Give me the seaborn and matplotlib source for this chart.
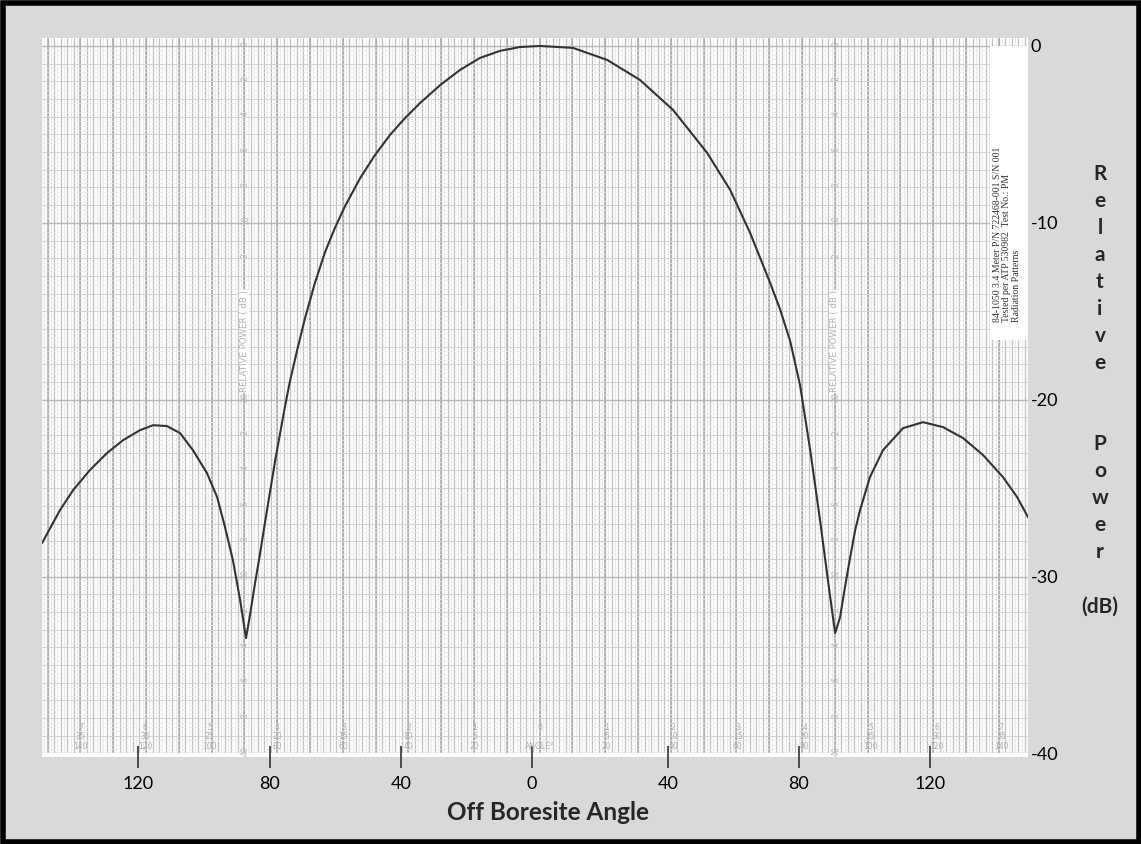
import numpy as np
import pandas as pd
import seaborn as sns
import matplotlib
matplotlib.use("Agg")
import matplotlib.pyplot as plt
from matplotlib.patches import Rectangle

angle = [-149.4, -143.9, -139.9, -134.8, -129.6, -124.7, -119.5, -115.5, -111.3, -107.3,
         -103.4, -99.1, -96.0, -93.6, -91.2, -89.0, -87.2,
         -86.0, -84.5, -82.9, -81.4, -79.9, -78.4, -76.8, -75.3, -73.8, -71.6,
         -69.2, -66.2, -63.1, -60.1, -57.0, -52.4, -47.9, -43.3, -38.7, -34.1,
         -28.0, -22.0, -15.9, -9.8, -3.7, 2.4,
         12.5, 22.9, 32.9, 43.0, 53.4, 60.4, 66.5, 72.6, 75.6, 78.7,
         81.7, 84.8, 87.8, 90.2, 92.4,
         93.9, 95.4, 97.0, 98.5, 100.0, 103.0, 107.0, 113.1, 119.2, 125.3,
         131.4, 137.5, 143.6, 147.9, 151.2]
power = [-28.11, -26.24, -25.11, -23.98, -23.02, -22.29, -21.72, -21.44, -21.49, -21.89,
         -22.85, -24.15, -25.51, -27.21, -29.07, -31.33, -33.48,
         -32.18, -30.43, -28.68, -26.92, -25.23, -23.53, -21.89, -20.36, -18.95, -17.19,
         -15.38, -13.40, -11.65, -10.29, -9.05, -7.47, -6.17, -5.03, -4.07, -3.22,
         -2.21, -1.36, -0.68, -0.28, -0.06, 0.0,
         -0.11, -0.79, -1.92, -3.62, -6.05, -8.14, -10.58, -13.40, -14.88, -16.69,
         -19.17, -22.85, -26.81, -30.20, -33.20,
         -32.30, -30.60, -28.90, -27.38, -26.24, -24.38, -22.85, -21.61, -21.27, -21.55,
         -22.17, -23.13, -24.38, -25.51, -26.64]

xtick_pos = [-120.0, -80.0, -40.0, 0.0, 41.4, 81.3, 121.3]
xtick_labels = ["120", "80", "40", "0", "40", "80", "120"]
ytick_vals = [0, -10, -20, -30, -40]
ytick_labels = ["0", "-10", "-20", "-30", "-40"]

paper_angle_pos = [-137.7, -117.9, -98.3, -77.6, -57.5, -37.7, -17.5, 2.3,
                   22.7, 43.0, 62.7, 83.1, 103.2, 123.4, 143.0]
paper_angle_labels = ["7\n35\n140", "6\n30\n120", "5\n25\n100", "4\n20\n80", "3\n15\n60",
                      "2\n10\n40", "1\n5\n20", "0\n\nANGLE°",
                      "1\n5\n20", "2\n10\n40", "3\n15\n60", "4\n20\n80", "5\n25\n100",
                      "6\n30\n120", "7\n35\n140"]
paper_db_labels = ["0", "2", "4", "6", "8", "10", "2", "4", "6", "8", "20",
                   "2", "4", "6", "8", "30", "2", "4", "6", "8", "40"]
paper_db_cols = [-87.4, 92.6]

note_lines = ["84-1050 3.4 Meter P/N 722468-001 S/N 001",
              "Tested per ATP 530982  Test No.: PM",
              "Radiation Patterns"]

df = pd.DataFrame({"angle": angle, "power": power})

# ---------------- figure ----------------
sns.set_theme(style="white")
plt.rcParams["font.family"] = ["Lato", "DejaVu Sans"]

W, H = 1141, 844
fig = plt.figure(figsize=(W / 100, H / 100), dpi=100, facecolor="#d9d9d9")
ax = fig.add_axes([42 / W, (H - 757) / H, (1028 - 42) / W, (757 - 38) / H])
ax.set_facecolor("white")

XMIN, XMAX = -149.4, 151.2
YMIN, YMAX = -40.2, 0.45
ax.set_xlim(XMIN, XMAX)
ax.set_ylim(YMIN, YMAX)

# chart-paper grid (paper zero sits slightly right of the overlay zero)
P0 = 2.3
xs = np.arange(-152, 152, 1)
ax.vlines(xs + P0, YMIN, YMAX, colors="#e2e2e2", lw=0.5, zorder=0)
ax.vlines(xs[xs % 2 == 0] + P0, YMIN, YMAX, colors="#bebebe", lw=0.9, zorder=0)
ax.vlines(xs[xs % 10 == 0] + P0, YMIN, YMAX, colors="#a9a9a9", lw=1.1, zorder=0)
ax.hlines(np.arange(-40, 0.01, 0.25), XMIN, XMAX, colors="#ebebeb", lw=0.5, zorder=0)
ax.hlines(np.arange(-40, 0.01, 1), XMIN, XMAX, colors="#d2d2d2", lw=0.7, zorder=0)
ax.hlines(np.arange(-40, 0.01, 10), XMIN, XMAX, colors="#b8b8b8", lw=1.0, zorder=0)
ax.axhspan(YMIN, -39.95, color="white", zorder=0.5)

# faint printed paper labels
for xp, lab in zip(paper_angle_pos, paper_angle_labels):
    ax.text(xp, -39.85, lab, fontsize=5.5, color="#b0b0b0", ha="center", va="bottom",
            linespacing=1.05, family="DejaVu Sans", zorder=1)
for xc in paper_db_cols:
    for i, lab in enumerate(paper_db_labels):
        if 7 <= i <= 9:   # hidden under the printed axis title
            continue
        ax.text(xc, -2 * i + 0.15, lab, fontsize=5.5, color="#b8b8b8", ha="center",
                va="center", rotation=90, family="DejaVu Sans", zorder=1)
    ax.text(xc - 0.4, -16.7, "RELATIVE POWER ( dB )", fontsize=6.2, color="#b0b0b0",
            rotation=90, ha="center", va="center", family="DejaVu Sans", zorder=1.2,
            bbox=dict(fc="white", ec="none", pad=0.6))

# the pattern curve
sns.lineplot(data=df, x="angle", y="power", sort=False, color="#333333", lw=1.5,
             ax=ax, zorder=4, legend=False)

# note box
ax.add_patch(Rectangle((139.6, -16.6), XMAX - 139.6, 16.6, fc="white", ec="none", zorder=3))
ax.text(140.4, -15.6, "\n".join(note_lines), rotation=90, ha="left", va="bottom",
        multialignment="left", fontsize=7.0, family="Liberation Serif", color="#333333",
        linespacing=1.1, zorder=5)

# axes styling
for s in ax.spines.values():
    s.set_visible(False)
ax.set_xticks(xtick_pos)
ax.set_xticklabels(xtick_labels, fontsize=13, color="black")
ax.tick_params(axis="x", direction="inout", length=16, width=1.2, color="#333333",
               pad=6, bottom=True)
ax.yaxis.tick_right()
ax.set_yticks(ytick_vals)
ax.set_yticklabels(ytick_labels, fontsize=13, color="black")
ax.tick_params(axis="y", length=0, pad=2, right=True, left=False)
ax.set_xlabel("")
ax.set_ylabel("")

fig.text(548 / W, 1 - 813 / H, "Off Boresite Angle", ha="center", va="center",
         fontsize=17.5, fontweight="bold")
fig.text(1100 / W, 1 - 390 / H, "R\ne\nl\na\nt\ni\nv\ne\n\n\nP\no\nw\ne\nr\n\n(dB)",
         ha="center", va="center", fontsize=15, fontweight="bold", linespacing=1.44)

# outer frame
fig.patches.append(Rectangle((2.5 / W, 2.5 / H), 1 - 5 / W, 1 - 5 / H, transform=fig.transFigure,
                             fill=False, ec="black", lw=4))

fig.savefig("out.png", dpi=100, facecolor=fig.get_facecolor())
